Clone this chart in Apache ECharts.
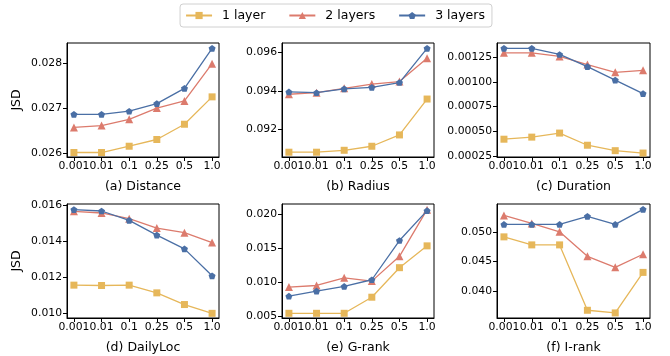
<!DOCTYPE html>
<html>
<head>
<meta charset="utf-8">
<script src="https://cdn.jsdelivr.net/npm/echarts@6/dist/echarts.min.js"></script>
<style>
  html, body { margin: 0; padding: 0; background: #fff; }
  #chart { width: 670px; height: 356px; }
</style>
</head>
<body>
<div id="chart"></div>
<script>
// x positions (ratio) shared by all panels
const xLabels = ['0.001', '0.01', '0.1', '0.25', '0.5', '1.0']
const seriesNames = ['1 layer', '2 layers', '3 layers']

// (a) Distance
const distance1 = [0.02601, 0.02601, 0.02615, 0.02630, 0.02664, 0.02725]
const distance2 = [0.02657, 0.02661, 0.02675, 0.02700, 0.02716, 0.02799]
const distance3 = [0.02686, 0.02686, 0.02693, 0.02710, 0.02744, 0.02833]
// (b) Radius
const radius1 = [0.09080, 0.09080, 0.09090, 0.09111, 0.09170, 0.09357]
const radius2 = [0.09382, 0.09390, 0.09413, 0.09435, 0.09448, 0.09570]
const radius3 = [0.09394, 0.09390, 0.09410, 0.09418, 0.09443, 0.09621]
// (c) Duration
const duration1 = [0.000420, 0.000441, 0.000482, 0.000359, 0.000304, 0.000280]
const duration2 = [0.001294, 0.001294, 0.001257, 0.001175, 0.001096, 0.001117]
const duration3 = [0.001339, 0.001339, 0.001277, 0.001154, 0.001018, 0.000881]
// (d) DailyLoc
const dailyLoc1 = [0.01157, 0.01155, 0.01157, 0.01114, 0.01049, 0.01000]
const dailyLoc2 = [0.01568, 0.01559, 0.01527, 0.01475, 0.01449, 0.01394]
const dailyLoc3 = [0.01578, 0.01570, 0.01518, 0.01436, 0.01359, 0.01209]
// (e) G-rank
const gRank1 = [0.00544, 0.00544, 0.00544, 0.00780, 0.01213, 0.01533]
const gRank2 = [0.00928, 0.00952, 0.01065, 0.01016, 0.01380, 0.02064]
const gRank3 = [0.00795, 0.00869, 0.00938, 0.01036, 0.01611, 0.02049]
// (f) I-rank
const iRank1 = [0.04920, 0.04784, 0.04784, 0.03676, 0.03631, 0.04318]
const iRank2 = [0.05284, 0.05148, 0.05006, 0.04591, 0.04403, 0.04625]
const iRank3 = [0.05131, 0.05131, 0.05131, 0.05267, 0.05131, 0.05386]

// y tick labels per panel
const distanceTicks = [0.026, 0.027, 0.028]
const radiusTicks = [0.092, 0.094, 0.096]
const durationTicks = [0.00025, 0.0005, 0.00075, 0.001, 0.00125]
const dailyLocTicks = [0.010, 0.012, 0.014, 0.016]
const gRankTicks = [0.005, 0.010, 0.015, 0.020]
const iRankTicks = [0.040, 0.045, 0.050]

const panels = [
  { title: '(a) Distance', data: [distance1, distance2, distance3], ticks: distanceTicks, digits: 3, min: 0.02591, max: 0.02845 },
  { title: '(b) Radius', data: [radius1, radius2, radius3], ticks: radiusTicks, digits: 3, min: 0.09055, max: 0.09649 },
  { title: '(c) Duration', data: [duration1, duration2, duration3], ticks: durationTicks, digits: 5, min: 0.000240, max: 0.001393 },
  { title: '(d) DailyLoc', data: [dailyLoc1, dailyLoc2, dailyLoc3], ticks: dailyLocTicks, digits: 3, min: 0.00974, max: 0.01609 },
  { title: '(e) G-rank', data: [gRank1, gRank2, gRank3], ticks: gRankTicks, digits: 3, min: 0.00475, max: 0.02147 },
  { title: '(f) I-rank', data: [iRank1, iRank2, iRank3], ticks: iRankTicks, digits: 3, min: 0.03545, max: 0.05477 }
]

const colors = ['#e6b75a', '#dc7b6d', '#4a6fa5']
const pentagon = 'path://M0,-1L0.951,-0.309L0.588,0.809L-0.588,0.809L-0.951,-0.309Z'
const symbols = ['rect', 'triangle', pentagon]
const symbolSizes = [7, 8, 7]

const lefts = [67, 282, 497]
const widths = [152, 152, 153]
const tops = [43, 204]
const font = 'DejaVu Sans'

const grids = []
const xAxes = []
const yAxes = []
const series = []

panels.forEach((p, i) => {
  const col = i % 3
  const row = Math.floor(i / 3)
  grids.push({
    left: lefts[col], top: tops[row], width: widths[col], height: 114,
    show: true, borderColor: '#000', borderWidth: 1, backgroundColor: 'transparent'
  })
  xAxes.push({
    gridIndex: i, type: 'value', min: -0.25, max: 5.25,
    name: p.title, nameLocation: 'middle', nameGap: 23,
    nameTextStyle: { fontFamily: font, fontSize: 12.5, color: '#000' },
    axisLine: { show: true, onZero: false, lineStyle: { color: '#000' } },
    axisTick: { show: true, length: 4, customValues: [0, 1, 2, 3, 4, 5], lineStyle: { color: '#000' } },
    axisLabel: {
      customValues: [0, 1, 2, 3, 4, 5], margin: 4,
      fontFamily: font, fontSize: 10.8, color: '#000',
      formatter: v => xLabels[Math.round(v)]
    },
    splitLine: { show: false }
  })
  yAxes.push({
    gridIndex: i, type: 'value', min: p.min, max: p.max,
    name: col === 0 ? 'JSD' : '', nameLocation: 'middle', nameGap: 44,
    nameTextStyle: { fontFamily: font, fontSize: 12.5, color: '#000' },
    axisLine: { show: true, onZero: false, lineStyle: { color: '#000' } },
    axisTick: { show: true, length: 4, customValues: p.ticks, lineStyle: { color: '#000' } },
    axisLabel: {
      customValues: p.ticks, margin: 5,
      fontFamily: font, fontSize: 10.8, color: '#000',
      formatter: v => v.toFixed(p.digits)
    },
    splitLine: { show: false }
  })
  p.data.forEach((vals, k) => {
    series.push({
      name: seriesNames[k], type: 'line',
      xAxisIndex: i, yAxisIndex: i,
      data: vals.map((v, j) => [j, v]),
      symbol: symbols[k], symbolSize: symbolSizes[k], symbolKeepAspect: true,
      showAllSymbol: true,
      lineStyle: { color: colors[k], width: 1.3 },
      itemStyle: { color: colors[k], borderColor: colors[k], borderWidth: 0 },
      emphasis: { disabled: true },
      z: 2 + k
    })
  })
})

const chart = echarts.init(document.getElementById('chart'), null, { renderer: 'canvas' })
chart.setOption({
  animation: false,
  backgroundColor: '#fff',
  legend: {
    data: seriesNames,
    left: 'center', top: 4,
    itemWidth: 26, itemHeight: 9, itemGap: 23,
    padding: [5, 7, 5, 5],
    borderColor: '#d0d0d0', borderWidth: 1, borderRadius: 3,
    textStyle: { fontFamily: font, fontSize: 12.5, color: '#000', padding: [0, 0, 0, 5] }
  },
  grid: grids,
  xAxis: xAxes,
  yAxis: yAxes,
  series: series
})
</script>
</body>
</html>
